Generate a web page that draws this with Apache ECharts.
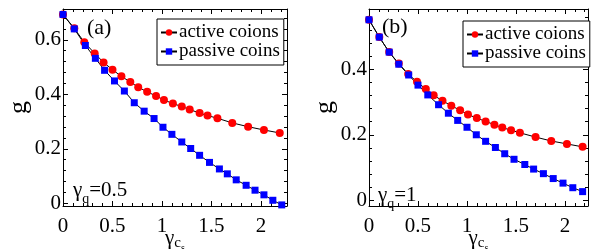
<!DOCTYPE html>
<html><head><meta charset="utf-8">
<script src="https://cdn.jsdelivr.net/npm/echarts@6/dist/echarts.min.js"></script>
<style>html,body{margin:0;padding:0;background:#fff}#c{width:594px;height:249px}</style>
</head><body><div id="c"></div>
<script>
// Panel (a): gamma_q = 0.5
const activeX_a = [0,0.114,0.215,0.32,0.41,0.50,0.59,0.68,0.76,0.85,0.94,1.02,1.11,1.20,1.28,1.38,1.46,1.56,1.71,1.87,2.03,2.19];
const activeG_a = [0.693,0.642,0.591,0.550,0.517,0.490,0.466,0.445,0.426,0.409,0.394,0.379,0.366,0.355,0.344,0.331,0.322,0.312,0.295,0.281,0.269,0.258];
const passiveX_a = [0,0.114,0.226,0.327,0.42,0.52,0.62,0.72,0.82,0.92,1.01,1.10,1.20,1.29,1.38,1.48,1.58,1.66,1.75,1.85,1.94,2.03,2.12,2.21];
const passiveG_a = [0.693,0.640,0.579,0.532,0.488,0.449,0.412,0.369,0.338,0.311,0.279,0.253,0.225,0.201,0.176,0.150,0.126,0.108,0.086,0.066,0.048,0.031,0.011,-0.006];
// Panel (b): gamma_q = 1
const activeX_b = [0,0.105,0.206,0.304,0.40,0.49,0.58,0.66,0.75,0.84,0.93,1.01,1.10,1.19,1.28,1.36,1.45,1.54,1.70,1.86,2.02,2.18];
const activeG_b = [0.552,0.499,0.453,0.418,0.386,0.362,0.340,0.321,0.304,0.289,0.275,0.262,0.251,0.241,0.231,0.222,0.214,0.206,0.193,0.181,0.172,0.163];
const passiveX_b = [0,0.105,0.206,0.304,0.405,0.50,0.60,0.71,0.81,0.905,1.0,1.095,1.19,1.29,1.385,1.48,1.59,1.68,1.78,1.88,1.98,2.08,2.18];
const passiveG_b = [0.552,0.499,0.453,0.416,0.383,0.352,0.322,0.292,0.266,0.244,0.223,0.200,0.180,0.161,0.142,0.125,0.109,0.095,0.081,0.066,0.052,0.038,0.026];

const seriesNames = ['active coions','passive coins'];
const xTicks = [0,0.5,1,1.5,2];
const xMinorTicks = [0.1,0.2,0.3,0.4,0.6,0.7,0.8,0.9,1.1,1.2,1.3,1.4,1.6,1.7,1.8,1.9,2.1,2.2];
const yTicks_a = [0,0.2,0.4,0.6];
const yMinorTicks_a = [0.04,0.08,0.12,0.16,0.24,0.28,0.32,0.36,0.44,0.48,0.52,0.56,0.64,0.68];
const yTicks_b = [0,0.2,0.4];
const yMinorTicks_b = [0.04,0.08,0.12,0.16,0.24,0.28,0.32,0.36,0.44,0.48,0.52,0.56];

const FONT = 'Liberation Serif';
const chart = echarts.init(document.getElementById('c'), null, {renderer:'canvas'});

function pairs(X, G){ return X.map((x,i)=>[x,G[i]]); }

const xAxes = [], yAxes = [];
function addAxes(gi, xr, yr, yT, yM){
  const base = {gridIndex: gi, type:'value', splitLine:{show:false}};
  const line = {show:true, onZero:false, lineStyle:{color:'#000', width:1}};
  xAxes.push(Object.assign({}, base, {min:xr[0], max:xr[1], position:'bottom',
    axisLine: line,
    axisTick:{show:true, inside:true, length:5, customValues:xTicks, lineStyle:{color:'#000'}},
    axisLabel:{show:true, customValues:xTicks, color:'#000', fontFamily:FONT, fontSize:21, margin:10},
    name:'{g|γ}{c|c}{s|s}', nameLocation:'middle', nameGap:26, nameMoveOverlap:false,
    nameTextStyle:{color:'#000', fontFamily:FONT, rich:{
      g:{fontSize:21, lineHeight:21, fontFamily:FONT, color:'#000', verticalAlign:'bottom', padding:[0,0,4,0]},
      c:{fontSize:15, lineHeight:15, fontFamily:FONT, color:'#000', verticalAlign:'bottom', padding:[0,0,2,0]},
      s:{fontSize:10, lineHeight:10, fontFamily:FONT, color:'#000', verticalAlign:'bottom'}
    }}
  }));
  xAxes.push(Object.assign({}, base, {min:xr[0], max:xr[1], position:'bottom',
    axisLine:{show:false, onZero:false},
    axisTick:{show:true, inside:true, length:3, customValues:xMinorTicks, lineStyle:{color:'#000'}},
    axisLabel:{show:false}}));
  xAxes.push(Object.assign({}, base, {min:xr[0], max:xr[1], position:'top',
    axisLine: line,
    axisTick:{show:true, inside:true, length:5, customValues:xTicks, lineStyle:{color:'#000'}},
    axisLabel:{show:false}}));
  xAxes.push(Object.assign({}, base, {min:xr[0], max:xr[1], position:'top',
    axisLine:{show:false, onZero:false},
    axisTick:{show:true, inside:true, length:3, customValues:xMinorTicks, lineStyle:{color:'#000'}},
    axisLabel:{show:false}}));

  yAxes.push(Object.assign({}, base, {min:yr[0], max:yr[1], position:'left',
    axisLine: line,
    axisTick:{show:true, inside:true, length:5, customValues:yT, lineStyle:{color:'#000'}},
    axisLabel:{show:true, customValues:yT, color:'#000', fontFamily:FONT, fontSize:21, margin:2},
    name:'g', nameLocation:'middle', nameRotate:90, nameGap:31, nameMoveOverlap:false,
    nameTextStyle:{color:'#000', fontFamily:FONT, fontSize:26}
  }));
  yAxes.push(Object.assign({}, base, {min:yr[0], max:yr[1], position:'left',
    axisLine:{show:false, onZero:false},
    axisTick:{show:true, inside:true, length:3, customValues:yM, lineStyle:{color:'#000'}},
    axisLabel:{show:false}}));
  yAxes.push(Object.assign({}, base, {min:yr[0], max:yr[1], position:'right',
    axisLine: line,
    axisTick:{show:true, inside:true, length:5, customValues:yT, lineStyle:{color:'#000'}},
    axisLabel:{show:false}}));
  yAxes.push(Object.assign({}, base, {min:yr[0], max:yr[1], position:'right',
    axisLine:{show:false, onZero:false},
    axisTick:{show:true, inside:true, length:3, customValues:yM, lineStyle:{color:'#000'}},
    axisLabel:{show:false}}));
}
addAxes(0, [0,2.263], [-0.01,0.713], yTicks_a, yMinorTicks_a);
addAxes(1, [0,2.235], [-0.018,0.585], yTicks_b, yMinorTicks_b);

function mkSeries(name, data, axisIdx, color, symbol, size){
  return {name, type:'line', data, xAxisIndex:axisIdx, yAxisIndex:axisIdx,
    symbol, symbolSize:size, showSymbol:true, animation:false,
    lineStyle:{color:'#000', width:1}, itemStyle:{color, borderWidth:0}};
}

const legendBase = {orient:'vertical', selectedMode:false, data:seriesNames,
  backgroundColor:'#fff', borderColor:'#000', borderWidth:1, padding:[4,4,4,3],
  itemWidth:16, itemHeight:8, itemGap:0,
  textStyle:{color:'#000', fontFamily:FONT, fontSize:19, lineHeight:18, padding:[0,0,0,-3]}};

function subText(main, sub, rest){ return '{g|'+main+'}{q|'+sub+'}{e|'+rest+'}'; }
const richSub = {
  g:{fontSize:21, lineHeight:21, fontFamily:FONT, fill:'#000', verticalAlign:'bottom', padding:[0,0,5,0]},
  q:{fontSize:14, lineHeight:14, fontFamily:FONT, fill:'#000', verticalAlign:'bottom'},
  e:{fontSize:21, lineHeight:21, fontFamily:FONT, fill:'#000', verticalAlign:'bottom', padding:[0,0,5,0]}
};

chart.setOption({
  animation:false,
  backgroundColor:'#fff',
  grid:[{left:63, top:9, width:224, height:197, outerBoundsMode:'none', containLabel:false},
        {left:369, top:9, width:219, height:197, outerBoundsMode:'none', containLabel:false}],
  xAxis:xAxes, yAxis:yAxes,
  legend:[Object.assign({}, legendBase, {left:157, top:19}), Object.assign({}, legendBase, {left:463, top:21})],
  graphic:[
    {type:'text', left:87, top:17, style:{text:'(a)', fontSize:22, fontFamily:FONT, fill:'#000'}},
    {type:'text', left:382, top:16, style:{text:'(b)', fontSize:22, fontFamily:FONT, fill:'#000'}},
    {type:'text', left:73, top:180, style:{text:subText('γ','q','=0.5'), fontFamily:FONT, rich:richSub}},
    {type:'text', left:378, top:185, style:{text:subText('γ','q','=1'), fontFamily:FONT, rich:richSub}}
  ],
  series:[
    mkSeries(seriesNames[0], pairs(activeX_a, activeG_a), 0, '#ff0000', 'circle', 8),
    mkSeries(seriesNames[1], pairs(passiveX_a, passiveG_a), 0, '#0000ff', 'rect', 7),
    mkSeries(seriesNames[0], pairs(activeX_b, activeG_b), 4, '#ff0000', 'circle', 8),
    mkSeries(seriesNames[1], pairs(passiveX_b, passiveG_b), 4, '#0000ff', 'rect', 7)
  ]
});
</script></body></html>
